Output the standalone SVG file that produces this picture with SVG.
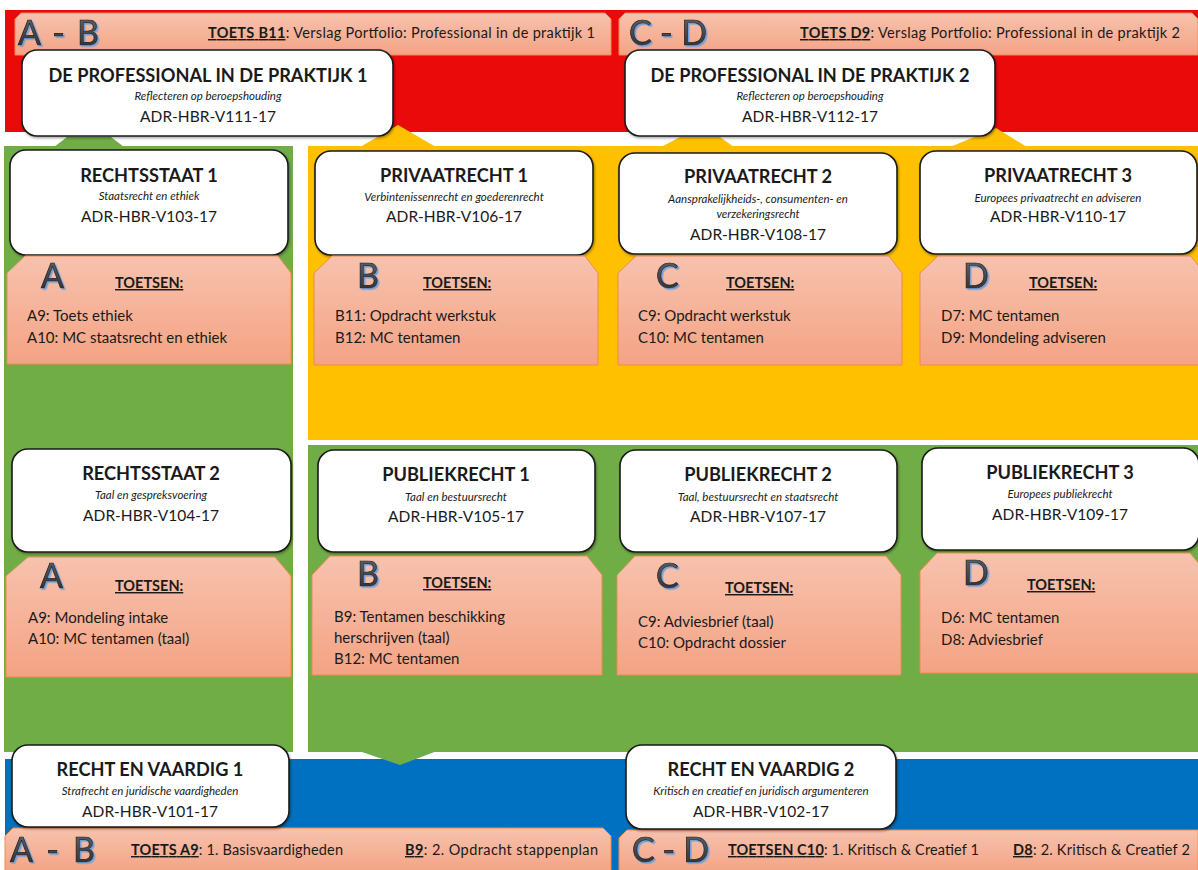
<svg xmlns="http://www.w3.org/2000/svg" width="1198" height="870" viewBox="0 0 1198 870">
<style>
text{font-family:Lato,"Carlito","Liberation Sans",sans-serif;fill:#1a1a1a}
.t{font-size:18.2px;font-weight:bold;text-anchor:middle}
.tt{font-size:18.2px;font-weight:bold;text-anchor:middle}
.s{font-size:11.5px;font-style:italic;text-anchor:middle}
.c{font-size:15.5px;text-anchor:middle}
.l{font-size:15px}
.h{font-size:14.5px;font-weight:bold;text-decoration:underline}
.bd{font-size:14.5px}
.u{font-weight:bold;text-decoration:underline}
.big{font-size:34px;fill:url(#lg);stroke:#1e1e1e;stroke-width:0.7;filter:url(#bs)}
.box{fill:#fff;stroke:#1a1a1a;stroke-width:1.6;filter:url(#ds)}
.toets{fill:url(#sg);stroke:#ef8a4e;stroke-width:1}
</style>
<defs>
<linearGradient id="sg" x1="0" y1="0" x2="0" y2="1"><stop offset="0" stop-color="#f7c2ae"/><stop offset="1" stop-color="#f4a384"/></linearGradient>
<linearGradient id="lg" x1="0" y1="0" x2="0" y2="1"><stop offset="0" stop-color="#6b6b6b"/><stop offset="1" stop-color="#2b2b2b"/></linearGradient>
<filter id="bs" x="-20%" y="-20%" width="140%" height="140%"><feDropShadow dx="1.6" dy="1.6" stdDeviation="0.4" flood-color="#6f9fd8"/></filter>
<filter id="ds" x="-5%" y="-5%" width="110%" height="115%"><feDropShadow dx="1" dy="1.5" stdDeviation="1" flood-color="#000" flood-opacity="0.35"/></filter>
</defs>

<g id="background">
<rect x="5" y="10" width="1193" height="122" fill="#ea0a0a"/>
<rect x="4" y="146" width="289" height="606" fill="#70ad47"/>
<rect x="308" y="146" width="890" height="294" fill="#ffc000"/>
<rect x="308" y="445" width="890" height="307" fill="#70ad47"/>
<rect x="5" y="759" width="1193" height="111" fill="#0070c0"/>
</g>

<g id="connectors">
<polygon points="54,147 67,137 111,137 124,147" fill="#70ad47"/>
<polygon points="360,147 398,125 436,147" fill="#ffc000"/>
<polygon points="661,147 680,137 720,137 734,147" fill="#ffc000"/>
<polygon points="950,147 996,128 1027,147" fill="#ffc000"/>
<polygon points="359,751 437,751 400,765" fill="#70ad47"/>
</g>

<g id="toets-top-ab">
<path class="toets" d="M21,13 H605 L611,19 V55 H15 V19 Z"/>
<text class="big" x="18" y="45" textLength="81">A - B</text>
<text class="bd" x="208" y="38" textLength="387"><tspan class="u">TOETS B11</tspan>: Verslag Portfolio: Professional in de praktijk 1</text>
</g>
<g id="toets-top-cd">
<path class="toets" d="M625,13 H1192 L1198,19 V55 H619 V19 Z"/>
<text class="big" x="629" y="45" textLength="78">C - D</text>
<text class="bd" x="800" y="38" textLength="380"><tspan class="u">TOETS D9</tspan>: Verslag Portfolio: Professional in de praktijk 2</text>
</g>

<g id="node-prof1">
<rect class="box" x="22" y="50" width="371" height="86" rx="15"/>
<text class="tt" x="208" y="82">DE PROFESSIONAL IN DE PRAKTIJK 1</text>
<text class="s" x="208" y="100">Reflecteren op beroepshouding</text>
<text class="c" x="208" y="122">ADR-HBR-V111-17</text>
</g>
<g id="node-prof2">
<rect class="box" x="625" y="50" width="370" height="86" rx="15"/>
<text class="tt" x="810" y="82">DE PROFESSIONAL IN DE PRAKTIJK 2</text>
<text class="s" x="810" y="100">Reflecteren op beroepshouding</text>
<text class="c" x="810" y="122">ADR-HBR-V112-17</text>
</g>

<!-- Row 1 -->
<g id="node-rs1">
<rect class="box" x="10" y="150" width="278" height="105" rx="16"/>
<text class="t" x="149" y="182">RECHTSSTAAT 1</text>
<text class="s" x="149" y="200">Staatsrecht en ethiek</text>
<text class="c" x="149" y="222">ADR-HBR-V103-17</text>
</g>
<g id="toets-rs1">
<path class="toets" d="M25,256 H278 L291,273 V364 H7 V273 Z"/>
<text class="big" x="41" y="288">A</text>
<text class="h" x="115" y="288">TOETSEN:</text>
<text class="l" x="27" y="321">A9: Toets ethiek</text>
<text class="l" x="27" y="343">A10: MC staatsrecht en ethiek</text>
</g>

<g id="node-pr1">
<rect class="box" x="315" y="151" width="278" height="104" rx="16"/>
<text class="t" x="454" y="182">PRIVAATRECHT 1</text>
<text class="s" x="454" y="201">Verbintenissenrecht en goederenrecht</text>
<text class="c" x="454" y="222">ADR-HBR-V106-17</text>
</g>
<g id="toets-pr1">
<path class="toets" d="M332,256 H585 L598,273 V365 H314 V273 Z"/>
<text class="big" x="357" y="288">B</text>
<text class="h" x="423" y="288">TOETSEN:</text>
<text class="l" x="335" y="321">B11: Opdracht werkstuk</text>
<text class="l" x="335" y="343">B12: MC tentamen</text>
</g>

<g id="node-pr2">
<rect class="box" x="619" y="153" width="278" height="101" rx="16"/>
<text class="t" x="758" y="183">PRIVAATRECHT 2</text>
<text class="s" x="758" y="203" font-size="10.5">Aansprakelijkheids-, consumenten- en</text>
<text class="s" x="758" y="218" font-size="10.5">verzekeringsrecht</text>
<text class="c" x="758" y="240">ADR-HBR-V108-17</text>
</g>
<g id="toets-pr2">
<path class="toets" d="M636,256 H889 L902,273 V365 H618 V273 Z"/>
<text class="big" x="656" y="288">C</text>
<text class="h" x="726" y="288">TOETSEN:</text>
<text class="l" x="638" y="321">C9: Opdracht werkstuk</text>
<text class="l" x="638" y="343">C10: MC tentamen</text>
</g>

<g id="node-pr3">
<rect class="box" x="920" y="151" width="277" height="103" rx="16"/>
<text class="t" x="1058" y="182">PRIVAATRECHT 3</text>
<text class="s" x="1058" y="202">Europees privaatrecht en adviseren</text>
<text class="c" x="1058" y="222">ADR-HBR-V110-17</text>
</g>
<g id="toets-pr3">
<path class="toets" d="M938,256 H1191 L1204,273 V365 H920 V273 Z"/>
<text class="big" x="963" y="288">D</text>
<text class="h" x="1029" y="288">TOETSEN:</text>
<text class="l" x="941" y="321">D7: MC tentamen</text>
<text class="l" x="941" y="343">D9: Mondeling adviseren</text>
</g>

<!-- Row 2 -->
<g id="node-rs2">
<rect class="box" x="12" y="449" width="279" height="103" rx="16"/>
<text class="t" x="151" y="480">RECHTSSTAAT 2</text>
<text class="s" x="151" y="499">Taal en gespreksvoering</text>
<text class="c" x="151" y="521">ADR-HBR-V104-17</text>
</g>
<g id="toets-rs2">
<path class="toets" d="M28,557 H275 L291,576 V677 H6 V576 Z"/>
<text class="big" x="40" y="588">A</text>
<text class="h" x="115" y="591">TOETSEN:</text>
<text class="l" x="28" y="623">A9: Mondeling intake</text>
<text class="l" x="28" y="644">A10: MC tentamen (taal)</text>
</g>

<g id="node-pub1">
<rect class="box" x="318" y="450" width="277" height="102" rx="16"/>
<text class="t" x="456" y="481">PUBLIEKRECHT 1</text>
<text class="s" x="456" y="501">Taal en bestuursrecht</text>
<text class="c" x="456" y="522">ADR-HBR-V105-17</text>
</g>
<g id="toets-pub1">
<path class="toets" d="M330,556 H587 L602,575 V675 H312 V575 Z"/>
<text class="big" x="357" y="586">B</text>
<text class="h" x="423" y="588">TOETSEN:</text>
<text class="l" x="334" y="622">B9: Tentamen beschikking</text>
<text class="l" x="334" y="643">herschrijven (taal)</text>
<text class="l" x="334" y="664">B12: MC tentamen</text>
</g>

<g id="node-pub2">
<rect class="box" x="620" y="450" width="277" height="102" rx="16"/>
<text class="t" x="758" y="481">PUBLIEKRECHT 2</text>
<text class="s" x="758" y="501">Taal, bestuursrecht en staatsrecht</text>
<text class="c" x="758" y="522">ADR-HBR-V107-17</text>
</g>
<g id="toets-pub2">
<path class="toets" d="M635,556 H886 L901,575 V675 H617 V575 Z"/>
<text class="big" x="656" y="588">C</text>
<text class="h" x="725" y="593">TOETSEN:</text>
<text class="l" x="638" y="627">C9: Adviesbrief (taal)</text>
<text class="l" x="638" y="648">C10: Opdracht dossier</text>
</g>

<g id="node-pub3">
<rect class="box" x="922" y="448" width="277" height="102" rx="16"/>
<text class="t" x="1060" y="479">PUBLIEKRECHT 3</text>
<text class="s" x="1060" y="498">Europees publiekrecht</text>
<text class="c" x="1060" y="520">ADR-HBR-V109-17</text>
</g>
<g id="toets-pub3">
<path class="toets" d="M937,553 H1190 L1205,571 V673 H920 V571 Z"/>
<text class="big" x="963" y="585">D</text>
<text class="h" x="1027" y="590">TOETSEN:</text>
<text class="l" x="941" y="623">D6: MC tentamen</text>
<text class="l" x="941" y="645">D8: Adviesbrief</text>
</g>

<!-- Bottom -->
<g id="toets-bottom-ab">
<path class="toets" d="M13,828 H603 L611,836 V872 H5 V836 Z"/>
<text class="big" x="10" y="862" textLength="85">A - B</text>
<text class="bd" x="131" y="855" textLength="212"><tspan class="u">TOETS A9</tspan>: 1. Basisvaardigheden</text>
<text class="bd" x="405" y="855" textLength="193"><tspan class="u">B9</tspan>: 2. Opdracht stappenplan</text>
</g>
<g id="toets-bottom-cd">
<path class="toets" d="M627,830 H1198 V872 H619 V838 Z"/>
<text class="big" x="632" y="862" textLength="77">C - D</text>
<text class="bd" x="728" y="855" textLength="251"><tspan class="u">TOETSEN C10</tspan>: 1. Kritisch &amp; Creatief 1</text>
<text class="bd" x="1013" y="855" textLength="177"><tspan class="u">D8</tspan>: 2. Kritisch &amp; Creatief 2</text>
</g>

<g id="node-rv1">
<rect class="box" x="12" y="745" width="277" height="82" rx="16"/>
<text class="t" x="150" y="776">RECHT EN VAARDIG 1</text>
<text class="s" x="150" y="795" font-size="11.8">Strafrecht en juridische vaardigheden</text>
<text class="c" x="150" y="817">ADR-HBR-V101-17</text>
</g>
<g id="node-rv2">
<rect class="box" x="626" y="745" width="270" height="84" rx="16"/>
<text class="t" x="761" y="776">RECHT EN VAARDIG 2</text>
<text class="s" x="761" y="795" font-size="11.8">Kritisch en creatief en juridisch argumenteren</text>
<text class="c" x="761" y="817">ADR-HBR-V102-17</text>
</g>
</svg>
